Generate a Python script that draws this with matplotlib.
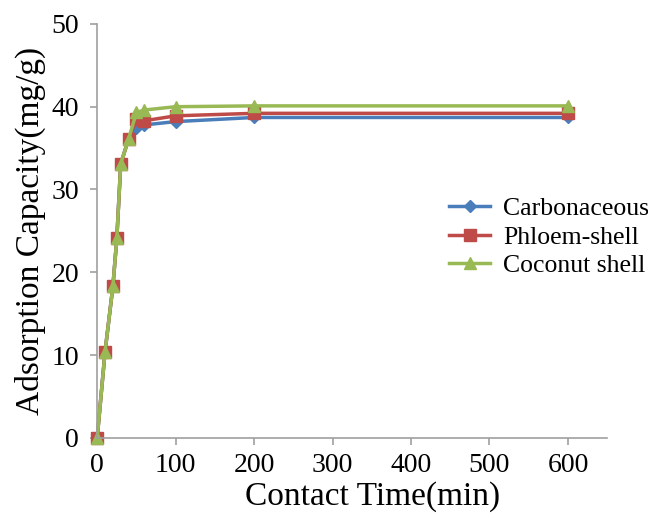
import matplotlib
matplotlib.use("Agg")
import matplotlib.pyplot as plt

# contact time (min)
time = [0, 10, 20, 25, 30, 40, 50, 60, 100, 200, 600]
carbonaceous = [0, 10.4, 18.3, 24.1, 33.1, 36.1, 37.4, 37.8, 38.2, 38.7, 38.7]
phloem_shell = [0, 10.4, 18.3, 24.1, 33.1, 36.1, 38.5, 38.3, 38.9, 39.2, 39.2]
coconut_shell = [0, 10.4, 18.3, 24.1, 33.1, 36.1, 39.3, 39.6, 40.0, 40.1, 40.1]

plt.rcParams['font.family'] = ['Liberation Serif', 'DejaVu Serif']

fig = plt.figure(figsize=(6.48, 5.2), dpi=100)
ax = fig.add_axes([0.150, 0.158, 0.787, 0.796])

ax.plot(time, carbonaceous, '-D', color='#4a7ebb', lw=2.5, ms=6, label='Carbonaceous', clip_on=False)
ax.plot(time, phloem_shell, '-s', color='#be4b48', lw=2.5, ms=8, label='Phloem-shell', clip_on=False)
ax.plot(time, coconut_shell, '-^', color='#98b954', lw=2.5, ms=9, label='Coconut shell', clip_on=False)

ax.set_xlim(0, 650)
ax.set_ylim(0, 50)
ax.set_xticks(range(0, 601, 100))
ax.set_yticks(range(0, 51, 10))
for s in ['top', 'right']:
    ax.spines[s].set_visible(False)
for s in ['left', 'bottom']:
    ax.spines[s].set_color('#a0a0a0')
    ax.spines[s].set_linewidth(1.2)
ax.tick_params(colors='#a0a0a0', labelcolor='black', labelsize=20, length=5, width=1.2)
ax.tick_params(axis='y', pad=8)
ax.tick_params(axis='x', pad=6)

ax.set_xlabel('Contact Time(min)', fontsize=24, labelpad=0)
ax.xaxis.set_label_coords(0.54, -0.105)
ax.set_ylabel('Adsorption Capacity(mg/g)', fontsize=24, labelpad=4)

ax.legend(loc='center left', bbox_to_anchor=(0.645, 0.485), frameon=False,
          fontsize=18.5, handlelength=1.6, handletextpad=0.5, labelspacing=0.22)

fig.savefig('out.png', dpi=100)
